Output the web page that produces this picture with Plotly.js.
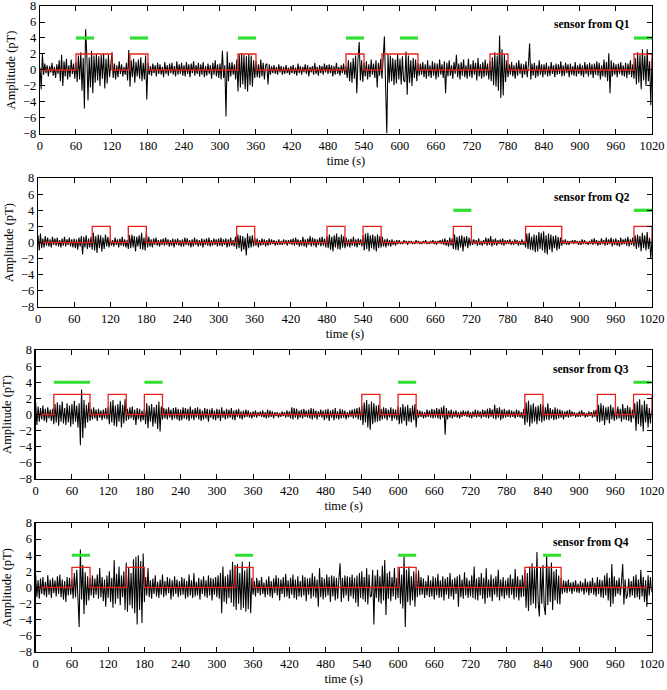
<!DOCTYPE html>
<html><head><meta charset="utf-8">
<script src="https://cdn.plot.ly/plotly-3.0.1.min.js"></script>
<style>html,body{margin:0;padding:0;background:#fff}#chart{width:667px;height:690px}</style>
</head><body><div id="chart"></div>
<script>
// sampling interval of the amplitude traces (seconds)
const sampleStep = 2;

// Sensor from Q1 (pT), one row per 60 s
const q1 = [
0.3,-2.4,2.0,-0.6,0.8,-0.4,0.6,-0.8,0.5,-0.3,0.9,-0.7,0.4,-1.0,0.7,-0.5,1.2,-1.4,1.9,-2.0,1.1,-0.8,1.4,-1.2,0.6,-0.9,1.3,-0.5,0.8,-1.1,
1.0,-1.5,1.8,-1.2,2.2,-2.6,1.5,-4.8,5.1,2.0,-3.8,1.6,-2.2,2.4,-2.9,1.8,-1.6,2.0,-1.3,1.7,-2.0,1.9,-1.1,2.1,-2.3,1.4,-1.7,1.9,-0.9,1.2,
2.2,-1.0,0.8,-1.2,0.6,-0.9,1.1,-0.5,0.7,-0.8,0.4,-0.6,0.9,-1.3,2.5,-2.1,1.2,-0.9,1.4,-1.6,1.0,-0.8,1.3,-1.1,1.6,-1.4,0.9,-1.2,1.8,-3.7,
0.9,-0.6,0.5,-0.7,0.8,-0.4,0.6,-0.8,0.9,-0.5,0.7,-0.6,0.4,-0.9,1.0,-0.5,0.6,-0.7,0.8,-0.4,0.9,-0.6,0.5,-0.8,1.1,-0.6,0.7,-0.5,0.9,-0.7,
0.6,-0.8,1.0,-0.5,0.7,-0.9,0.8,-0.4,1.1,-0.7,0.6,-0.5,0.9,-0.8,0.7,-0.6,1.0,-0.9,0.5,-0.7,0.8,-0.5,0.6,-1.1,0.9,-0.6,1.2,-0.8,0.7,-1.0,
0.8,-1.2,2.4,-1.0,0.6,-5.8,2.3,-1.4,0.9,-0.8,1.0,-0.6,0.7,-1.2,1.3,-2.7,2.0,-2.2,2.1,-1.8,1.9,-2.4,1.7,-2.7,2.0,-1.9,1.8,-2.1,1.2,-1.0,
1.1,-0.9,0.7,-1.0,1.3,-0.8,0.9,-1.2,0.6,0.8,-1.8,0.7,-0.6,0.5,-0.4,0.6,-0.5,0.4,-0.6,0.7,-0.3,0.5,-0.6,0.4,-0.5,0.6,-0.4,0.3,-0.6,0.5,
-0.4,0.6,-0.5,0.3,-0.7,0.8,-0.4,0.5,-0.6,0.4,-0.3,0.7,-0.5,0.6,-0.8,0.4,-0.3,0.5,-0.6,0.9,-0.5,0.4,-0.7,0.6,-0.4,0.5,-0.6,0.8,-0.3,0.6,
-0.5,0.7,-0.4,0.6,-0.8,0.5,-0.6,0.9,-0.5,0.4,-0.7,0.6,-0.4,0.8,-0.6,0.5,-1.0,1.2,-1.4,1.0,-1.6,1.5,-1.1,1.8,-2.9,1.4,3.5,-1.3,1.2,-1.5,
0.9,-0.8,1.1,-1.2,0.7,-0.9,1.3,-0.6,0.8,-1.0,1.2,-2.2,0.9,-0.7,1.4,-1.1,1.6,4.2,-2.0,-7.9,2.0,-1.6,1.8,-1.4,1.5,-1.9,1.3,-1.7,2.0,-1.2,
1.4,-1.8,1.7,-1.3,-1.5,2.3,-3.1,1.8,-1.6,1.2,-2.0,1.5,-1.0,1.3,-1.4,0.9,-0.7,0.8,-0.6,1.0,-0.9,0.7,-1.1,1.2,-0.8,0.6,-1.0,1.1,-0.7,0.9,
-1.2,0.8,-0.9,1.3,-0.6,0.7,-1.0,1.1,-2.9,0.9,-0.8,1.2,-0.7,0.6,-1.1,1.0,-0.5,1.9,-0.9,0.8,-1.2,1.0,-0.7,1.3,-0.9,0.6,-1.1,1.4,-0.8,0.7,
-1.0,1.2,-0.6,0.9,-1.3,1.5,-0.8,0.7,-1.1,1.0,-0.9,1.3,-0.7,0.8,-1.2,1.1,-1.4,1.6,-1.9,2.2,-2.1,1.8,-2.6,4.3,-3.5,2.6,-3.2,1.9,-1.5,1.2,
-0.9,0.7,-0.6,1.0,-0.8,0.6,-1.1,0.9,-0.7,1.2,-0.5,0.8,-1.0,0.7,-0.6,1.1,-0.9,0.6,3.3,-1.2,0.8,-0.7,0.9,-1.0,0.6,-0.8,1.2,-0.6,0.7,-0.9,
0.7,-0.6,0.9,-0.8,0.5,-0.7,1.0,-0.5,0.6,-0.9,0.8,-0.6,0.7,-0.5,1.1,-0.8,0.6,-0.7,0.9,-0.4,0.7,-0.9,0.8,-0.6,0.5,-0.7,1.0,-0.8,0.6,-0.5,
0.8,-0.7,0.6,-0.9,1.0,-0.5,0.7,-0.8,0.9,-0.6,0.7,-1.0,0.8,-0.6,1.1,-0.7,0.9,-1.2,0.6,-0.8,1.3,-0.9,1.0,-1.4,2.1,-2.9,1.2,-0.8,0.9,-0.6,
0.7,-0.9,0.8,-0.5,1.0,-0.7,0.6,-0.8,0.9,-1.0,0.8,-0.6,1.2,-0.9,0.7,-1.1,1.5,-1.8,2.2,-1.6,1.9,-2.4,2.6,-1.3,1.8,-2.0,2.6,-1.4,1.1,-4.4,1.4
];

// Sensor from Q2 (pT)
const q2 = [
0.9,-1.0,1.1,-0.7,0.5,-0.6,0.8,-0.4,0.6,-0.5,0.4,-0.6,0.7,-0.3,0.5,-0.4,0.6,-0.5,0.3,-0.6,0.5,-0.4,0.7,-0.5,0.4,-0.3,0.6,-0.5,0.4,-0.6,
0.5,-0.7,0.4,-0.9,0.6,-0.5,0.8,-1.5,0.7,-0.6,0.9,-0.8,0.5,-0.6,0.7,-0.9,1.2,-1.0,0.8,-1.3,1.0,-0.7,0.9,-1.1,0.6,-0.8,1.0,-0.5,0.7,-0.6,
0.5,-0.4,0.3,-0.5,0.6,-0.3,0.4,-0.6,0.5,-0.4,0.7,-0.5,0.4,-0.6,0.3,-0.8,0.9,-0.7,1.0,-0.6,0.8,-1.1,0.7,-0.5,0.9,-0.8,1.2,-0.9,0.6,-1.0,
1.4,-0.6,0.7,-0.5,0.4,-0.6,0.5,-0.3,0.6,-0.4,0.3,-0.5,0.4,-0.3,0.5,-0.4,0.6,-0.3,0.4,-0.5,0.3,-0.4,0.5,-0.6,0.4,-0.3,0.5,-0.4,0.3,-0.5,
0.4,-0.5,0.6,-0.3,0.5,-0.4,0.3,-0.6,0.4,-0.5,0.6,-0.3,0.4,-0.5,0.3,-0.4,0.5,-0.6,0.4,-0.3,0.5,-0.4,0.6,-0.5,0.3,-0.4,0.5,-0.3,0.4,-0.5,
0.5,-0.4,0.6,-0.5,0.4,-0.3,0.5,-0.6,0.4,-0.5,0.6,-0.4,0.3,-0.5,0.7,-0.8,1.0,-0.7,0.9,-1.1,0.8,-0.9,0.6,-1.6,1.1,-0.7,0.8,-0.6,0.9,-0.5,
0.6,-0.4,0.5,-0.6,0.3,-0.4,0.5,-0.3,0.4,-0.5,0.3,-0.4,0.5,-0.3,0.4,-0.2,0.3,-0.4,0.2,-0.3,0.4,-0.3,0.2,-0.3,0.4,-0.2,0.3,-0.4,0.3,-0.2,
0.4,-0.3,0.5,-0.4,0.6,-0.3,0.4,-0.5,0.3,-0.4,0.7,-0.5,0.4,-0.6,0.5,-0.3,0.8,-0.5,0.6,-0.4,0.5,-0.6,0.4,-0.3,0.6,-0.5,0.7,-0.4,0.5,-0.6,
0.8,-0.7,1.0,-0.9,0.7,-1.1,0.9,-0.6,1.1,-0.8,0.7,-0.9,1.0,-0.6,0.8,-0.7,0.6,-0.5,0.4,-0.6,0.5,-0.4,0.7,-0.5,0.4,-0.6,0.5,-0.3,0.4,-0.5,
0.9,-1.0,1.1,-0.8,1.2,-1.1,0.9,-0.7,1.0,-0.9,0.8,-1.1,1.0,-0.7,0.8,-0.6,0.7,-0.5,0.4,-0.6,0.5,-0.4,0.3,-0.5,0.4,-0.3,0.2,-0.4,0.3,-0.2,
0.3,-0.2,0.1,-0.2,0.3,-0.1,0.2,-0.3,0.2,-0.1,0.2,-0.2,0.1,-0.2,0.3,-0.1,0.2,-0.2,0.1,-0.2,0.2,-0.1,0.3,-0.2,0.1,-0.2,0.2,-0.1,0.3,-0.2,
0.2,-0.3,0.2,-0.1,0.3,-0.2,0.4,-0.3,0.5,-0.4,0.3,-0.5,0.6,-0.4,0.5,-0.8,1.0,-0.9,0.7,-1.0,0.8,-0.6,0.9,-1.1,0.7,-0.5,0.8,-0.7,0.6,-0.4,
0.5,-0.3,0.4,-0.2,0.3,-0.4,0.5,-0.3,0.2,-0.4,0.3,-0.2,0.6,-0.4,0.5,-0.3,0.8,-0.5,0.4,-0.3,0.5,-0.4,0.3,-0.2,0.4,-0.3,0.5,-0.4,0.3,-0.2,
0.3,-0.2,0.4,-0.3,0.2,-0.3,0.4,-0.2,0.3,-0.4,0.2,-0.3,0.4,-0.3,0.2,-0.6,1.1,-0.8,1.2,-0.9,0.7,-1.0,1.0,-1.2,0.9,-1.1,1.3,-0.8,1.2,-1.0,
1.4,-1.3,0.9,-1.5,1.1,-0.9,1.0,-1.2,0.8,-0.7,0.9,-1.0,0.7,-0.8,0.6,-0.4,0.3,-0.2,0.4,-0.3,0.2,-0.3,0.2,-0.1,0.3,-0.2,0.3,-0.1,0.2,-0.3,
0.2,-0.3,0.4,-0.2,0.3,-0.2,0.1,-0.3,0.2,-0.2,0.4,-0.3,0.5,-0.2,0.3,-0.4,0.2,-0.3,0.5,-0.2,0.3,-0.4,0.6,-0.3,0.4,-0.2,0.6,-0.5,0.4,-0.3,
0.5,-0.4,0.3,-0.5,0.6,-0.3,0.4,-0.2,0.5,-0.4,0.7,-0.5,0.4,-0.3,0.6,-0.5,0.9,-0.8,1.0,-0.6,0.8,-1.1,1.2,-0.7,0.9,-1.0,1.3,-0.8,0.6,-2.0,0.4
];

// Sensor from Q3 (pT)
const q3 = [
1.5,-1.3,1.0,-0.9,0.8,-0.6,1.1,-0.8,0.7,-1.0,0.9,-0.5,0.6,-0.8,0.7,-1.2,1.3,-1.0,1.5,-1.4,1.2,-0.9,1.6,-1.1,0.8,-1.3,1.4,-1.0,1.1,-1.5,
1.3,-1.2,1.7,-0.9,1.1,-1.6,1.4,-3.8,3.1,-2.9,1.8,-1.7,1.2,-1.0,1.5,-0.8,0.7,-0.6,0.9,-0.5,0.6,-0.8,0.7,-0.4,0.5,-0.7,0.6,-0.5,0.8,-0.6,
0.9,-1.2,1.6,-1.0,1.8,-1.4,1.1,-1.5,1.3,-0.9,1.7,-1.6,1.2,-1.1,1.9,-0.8,0.7,-0.6,0.9,-0.5,1.0,-0.7,0.6,-1.3,0.8,-0.6,0.7,-0.9,0.5,-0.7,
0.8,-1.2,1.4,-1.7,1.1,-0.9,1.3,-1.5,0.9,-1.1,1.2,-1.8,1.6,-2.1,1.0,-0.6,0.8,-0.5,0.7,-0.6,0.9,-0.4,0.6,-0.7,0.8,-0.5,0.9,-0.6,0.7,-0.8,
0.6,-0.7,0.9,-0.5,0.8,-0.6,0.7,-0.8,1.0,-0.5,0.6,-0.7,0.8,-0.4,0.9,-0.6,0.7,-0.8,0.5,-0.6,0.8,-0.5,0.7,-0.9,0.6,-0.4,0.8,-0.6,0.5,-0.7,
0.7,-0.5,0.6,-0.8,0.9,-0.4,0.5,-0.6,0.7,-0.5,0.6,-0.4,0.8,-0.6,0.5,-0.7,0.6,-0.3,0.7,-0.5,0.4,-0.6,0.5,-0.4,0.6,-0.3,0.5,-0.4,0.3,-0.5,
0.4,-0.3,0.5,-0.4,0.3,-0.2,0.4,-0.3,0.5,-0.4,0.3,-0.5,0.6,-0.4,0.5,-0.3,0.4,-0.5,0.3,-0.2,0.3,-0.4,0.2,-0.3,0.4,-0.2,0.3,-0.4,0.5,-0.3,
0.4,-0.5,0.9,-0.6,0.8,-0.4,0.7,-0.6,0.5,-0.4,0.6,-0.5,0.7,-0.3,0.5,-0.4,0.6,-0.5,0.8,-0.6,0.7,-0.4,0.5,-0.6,0.4,-0.3,0.6,-0.4,0.5,-0.7,
0.6,-0.5,0.7,-0.8,0.5,-0.4,0.6,-0.7,0.8,-0.5,0.4,-0.6,0.7,-0.5,0.6,-0.4,0.5,-0.6,0.3,-0.4,0.5,-0.3,0.6,-0.5,0.7,-0.4,0.8,-0.6,0.9,-0.7,
1.1,-1.3,1.5,-1.0,1.8,-1.6,1.3,-1.9,1.6,-1.2,1.4,-1.0,1.1,-0.9,1.2,-0.8,0.7,-0.6,0.9,-0.5,0.8,-0.7,0.6,-0.4,0.9,-0.8,0.7,-0.5,0.6,-0.7,
1.0,-1.2,0.9,-1.1,1.3,-0.8,1.0,-1.4,1.2,-0.9,0.8,-1.0,1.1,-0.7,1.3,-1.6,0.6,-0.4,0.5,-0.3,0.4,-0.5,0.3,-0.4,0.6,-0.3,0.5,-0.4,0.7,-0.5,
0.6,-0.4,0.8,-0.5,0.7,-0.6,0.9,-0.4,1.1,-2.5,0.8,-0.6,0.5,-0.4,0.6,-0.5,0.4,-0.3,0.5,-0.4,0.3,-0.5,0.4,-0.3,0.5,-0.2,0.4,-0.3,0.5,-0.4,
0.3,-0.5,0.4,-0.3,0.6,-0.4,0.5,-0.3,0.4,-0.5,0.6,-0.3,0.5,-0.4,0.7,-0.5,0.8,-0.3,0.6,-0.5,1.2,-0.6,0.8,-0.4,0.9,-0.7,0.6,-0.5,0.7,-0.4,
0.5,-0.3,0.6,-0.4,0.5,-0.3,0.4,-0.5,0.6,-0.3,0.5,-0.4,0.3,-0.5,0.7,-1.3,1.5,-1.0,1.7,-1.5,1.2,-1.1,1.4,-0.9,1.0,-1.2,1.1,-0.8,1.3,-1.0,
1.2,-0.8,0.9,-0.6,1.4,-0.7,0.8,-0.5,0.6,-0.7,0.9,-0.6,0.7,-0.5,0.6,-0.4,0.5,-0.6,0.4,-0.3,0.5,-0.4,0.6,-0.3,0.4,-0.2,0.3,-0.4,0.2,-0.3,
0.4,-0.3,0.5,-0.2,0.3,-0.4,0.2,-0.3,0.4,-0.2,0.3,-0.4,0.5,-0.3,0.6,-0.9,1.2,-1.0,1.4,-0.8,1.1,-1.3,0.9,-0.7,1.0,-1.1,1.2,-0.6,0.9,-0.8,
0.8,-0.6,1.0,-0.5,0.7,-0.9,1.3,-0.6,0.8,-0.7,1.1,-0.8,0.9,-1.0,0.6,-0.5,1.4,-2.0,1.6,-1.2,1.9,-1.5,1.2,-2.1,1.7,-1.0,1.3,-1.6,0.8,-1.1,0.6
];

// Sensor from Q4 (pT)
const q4 = [
1.6,-1.2,0.9,-1.4,1.1,-0.8,1.3,-1.0,0.7,-1.2,1.5,-0.9,1.0,-1.3,1.2,-0.7,0.9,-1.1,1.4,-0.8,1.6,-1.2,1.0,-1.5,0.8,-1.8,1.3,-1.0,1.2,-0.9,
1.1,-1.4,1.8,-1.2,2.2,-0.6,-4.9,4.7,-1.5,2.8,-3.3,1.9,-2.2,1.4,-1.6,1.2,-1.0,1.5,-1.3,1.1,-0.9,1.6,-1.4,2.4,-1.2,1.3,-1.7,1.0,-2.4,1.5,
-1.3,2.0,-1.8,1.2,-2.5,3.4,-2.0,1.7,-1.4,2.6,-2.2,1.5,-1.2,2.0,-2.8,3.1,-3.0,2.5,-2.2,1.8,-2.6,3.5,-3.2,3.8,-4.6,4.0,-2.8,3.3,-4.4,4.2,
-1.8,1.3,-1.0,2.4,-1.2,0.9,-1.4,1.1,-0.8,1.5,-1.1,0.7,-1.3,1.0,-0.9,1.6,-1.2,0.8,-1.0,1.3,-0.7,1.1,-1.5,0.9,-1.1,1.4,-0.8,1.0,-1.2,0.8,
-1.0,1.3,-0.9,1.1,-1.4,0.8,-1.2,1.6,-1.0,0.9,-1.3,1.8,-1.1,0.7,-1.0,1.2,-1.5,1.0,-0.8,1.4,-1.1,0.9,-1.3,1.5,-1.0,1.2,-1.6,1.1,-0.9,1.3,
-1.2,1.5,-1.4,1.8,-3.2,2.6,-1.8,1.4,-2.0,1.6,-1.3,2.2,-1.9,3.2,-2.4,2.8,-2.8,2.9,-2.0,1.8,-2.8,3.2,-2.5,2.1,-3.0,2.4,-2.7,3.2,-3.2,1.2,
-0.9,0.8,-1.1,1.2,-0.7,0.9,-1.0,1.3,-0.8,0.6,-1.2,1.0,-0.9,1.4,-1.1,0.8,-1.3,1.1,-0.7,1.5,-1.0,1.2,-1.6,1.0,-0.8,1.3,-1.2,1.7,-1.1,0.9,
-1.4,1.2,-0.9,1.6,-1.3,1.0,-1.5,1.4,-1.1,0.8,-1.2,1.5,-1.0,1.3,-1.7,1.1,-0.9,1.2,-1.4,1.8,-1.1,1.4,-1.3,1.0,-2.4,2.4,-1.2,1.3,-1.5,1.1,
-1.2,1.6,-1.0,1.3,-1.8,1.5,-1.1,1.4,-1.6,1.2,-1.4,1.0,3.0,-1.8,1.2,-1.3,1.5,-1.0,1.4,-1.7,1.3,-1.1,1.6,-1.4,1.2,-1.9,1.5,-2.4,1.8,-1.3,
2.0,-1.5,1.3,-1.8,2.4,-2.1,1.6,-1.2,-1.0,2.2,-4.6,1.5,-1.3,2.2,-1.8,1.4,-2.0,2.7,-1.6,3.4,-3.4,1.8,-1.4,2.0,-1.7,1.3,-1.1,2.4,-1.5,1.2,
-1.3,2.4,-2.0,1.6,-2.6,4.0,-4.9,2.2,-1.8,2.6,-2.2,1.4,-1.6,2.0,-2.4,1.8,-1.2,2.1,-1.0,1.3,-0.9,1.1,-1.3,0.8,-1.0,1.5,-1.2,0.9,-1.1,1.4,
-1.5,1.2,-1.0,1.7,-1.3,0.9,-1.2,1.4,-1.6,1.1,-0.9,1.3,-1.4,1.8,-1.1,1.0,-1.5,1.2,-0.8,1.4,-2.4,1.6,-1.2,1.0,-1.4,1.9,-1.0,1.2,-1.3,0.9,
-1.1,1.5,-1.3,2.6,-1.5,1.1,-1.6,1.3,-1.0,1.8,-1.4,1.2,-2.0,2.4,-1.3,1.0,-1.2,1.6,-1.7,1.1,-0.9,1.4,-1.2,2.2,-1.6,1.0,-1.1,1.3,-1.4,0.9,
-1.0,1.2,-1.3,1.6,-0.9,1.1,-1.5,2.3,-1.2,1.4,-1.6,1.0,-1.2,1.5,-1.1,2.2,-2.5,1.8,-2.9,2.6,-2.2,3.0,-2.0,2.4,-2.6,4.4,-1.8,-3.6,2.5,-2.0,
2.8,-2.4,-3.4,4.0,-2.2,2.6,-1.8,3.1,-2.8,2.0,-1.6,2.3,-2.0,1.5,-2.1,1.2,-0.8,0.9,-0.6,0.8,-0.7,1.0,-0.5,0.6,-0.8,0.7,-0.5,0.9,-0.6,0.5,
-0.7,0.8,-0.5,0.6,-0.9,1.1,-0.6,0.7,-1.0,0.8,-0.7,1.2,-0.9,0.6,-1.1,1.3,-0.8,1.0,-1.2,0.9,-1.3,1.5,-1.0,1.8,-1.6,1.2,-2.4,2.9,-2.0,1.4,
-1.1,0.9,-0.8,1.2,-1.0,0.7,2.9,-2.1,1.0,-1.4,-0.9,1.1,-1.2,0.8,-1.0,1.4,-1.3,1.6,-1.2,1.0,-1.5,2.2,-1.1,1.3,-1.8,0.9,-2.4,1.5,-1.0,1.3,-0.6
];

// Stimulus windows (red pulses, seconds) and their heights (pT)
const redQ1 = [[60,120],[150,180],[330,360],[510,540],[570,630],[750,780],[990,1020]];
const redQ2 = [[90,120],[150,180],[330,360],[480,510],[540,570],[690,720],[810,870],[990,1020]];
const redQ3 = [[30,90],[120,150],[180,210],[540,570],[600,630],[810,840],[930,960],[990,1020]];
const redQ4 = [[60,90],[150,180],[330,360],[600,630],[810,870]];
const redHeights = [2, 2, 2.5, 2.5];

// Green marker bars (seconds) at level 4 pT
const greenQ1 = [[60,90],[150,180],[330,360],[510,540],[600,630],[990,1020]];
const greenQ2 = [[690,720],[990,1020]];
const greenQ3 = [[30,90],[180,210],[600,630],[990,1020]];
const greenQ4 = [[60,90],[330,360],[600,630],[840,870]];
const greenLevel = 4;

const panelLabels = ['sensor from Q1','sensor from Q2','sensor from Q3','sensor from Q4'];
const xTicks = [0,60,120,180,240,300,360,420,480,540,600,660,720,780,840,900,960,1020];
const yTicks = [-8,-6,-4,-2,0,2,4,6,8];
const tEnd = 1020;

const signals = [q1,q2,q3,q4];
const reds = [redQ1,redQ2,redQ3,redQ4];
const greens = [greenQ1,greenQ2,greenQ3,greenQ4];

function stepLine(pulses, h){
  const x=[0], y=[0];
  pulses.forEach(p=>{ x.push(p[0],p[0],p[1],p[1]); y.push(0,h,h,0); });
  if (x[x.length-1] < tEnd){ x.push(tEnd); y.push(0); }
  return {x,y};
}
function bars(segs, lvl){
  const x=[], y=[];
  segs.forEach(s=>{ x.push(s[0],s[1],null); y.push(lvl,lvl,null); });
  return {x,y};
}

const FONT = 'Liberation Serif, Times New Roman, serif';
const yDomains = [[0.8019,1],[0.5341,0.7337],[0.2678,0.4675],[0,0.1997]];
const xDomains = [[0.0081,1],[0.0049,1],[0.0011,0.9995],[0.0011,0.9995]];

const traces = [];
const layout = {
  width:667, height:690,
  margin:{l:35,r:15,t:6,b:38},
  paper_bgcolor:'#fff', plot_bgcolor:'#fff',
  showlegend:false,
  font:{family:FONT, size:12.5, color:'#000'},
  annotations:[]
};

for (let k=0;k<4;k++){
  const xa = k===0?'x':'x'+(k+1), ya = k===0?'y':'y'+(k+1);
  const sig = signals[k];
  const t = sig.map((_,i)=>i*sampleStep);
  traces.push({x:t, y:sig, xaxis:xa, yaxis:ya, type:'scatter', mode:'lines',
    line:{color:'#000', width:1.05}, hoverinfo:'skip'});
  const r = stepLine(reds[k], redHeights[k]);
  traces.push({x:r.x, y:r.y, xaxis:xa, yaxis:ya, type:'scatter', mode:'lines',
    line:{color:'#e8211c', width:1.3}, hoverinfo:'skip'});
  const g = bars(greens[k], greenLevel);
  traces.push({x:g.x, y:g.y, xaxis:xa, yaxis:ya, type:'scatter', mode:'lines',
    line:{color:'#2fde2f', width:3.2}, connectgaps:false, hoverinfo:'skip'});

  const xn = k===0?'xaxis':'xaxis'+(k+1), yn = k===0?'yaxis':'yaxis'+(k+1);
  layout[xn] = {domain:xDomains[k], anchor:ya, range:[0,tEnd], tickvals:xTicks,
    ticks:'inside', ticklen:5, tickwidth:1, tickcolor:'#000', mirror:'ticks',
    showline:true, linecolor:'#000', linewidth:1.2, showgrid:false, zeroline:false,
    ticklabeloverflow:'allow',
    tickfont:{family:FONT,size:12.5,color:'#000'},
    title:{text:'time (s)', font:{family:FONT,size:12.5,color:'#000'}, standoff:4}};
  layout[yn] = {domain:yDomains[k], anchor:xa, range:[-8,8], tickvals:yTicks,
    ticks:'inside', ticklen:5, tickwidth:1, tickcolor:'#000', mirror:'ticks',
    showline:true, linecolor:'#000', linewidth:1.2, showgrid:false, zeroline:false,
    ticklabeloverflow:'allow',
    tickfont:{family:FONT,size:12.5,color:'#000'},
    title:{text:'Amplitude (pT)', font:{family:FONT,size:12.5,color:'#000'}, standoff:4}};
  layout.annotations.push({text:'<b>'+panelLabels[k]+'</b>', xref:xa+' domain', yref:ya,
    x:0.967, y:5.7, xanchor:'right', yanchor:'middle', showarrow:false,
    font:{family:FONT,size:11.5,color:'#000'}});
}

Plotly.newPlot('chart', traces, layout, {staticPlot:true, displayModeBar:false});
</script>
</body></html>
